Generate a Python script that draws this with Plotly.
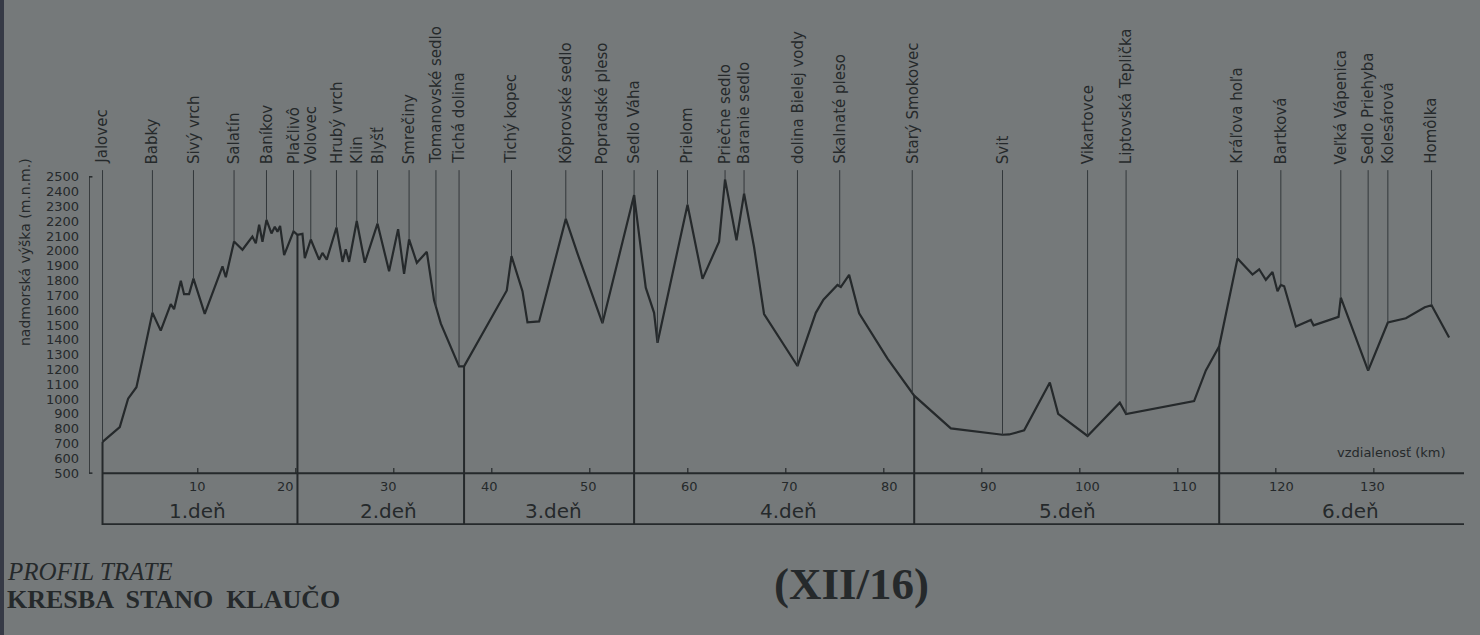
import numpy as np
import plotly.graph_objects as go

# ---------------- data ----------------
km = [0.28, 2.04, 2.89, 3.74, 4.41, 5.37, 6.22, 7.24, 7.58, 8.27, 8.60, 9.11, 9.56,
      10.71, 12.52, 12.86, 13.70, 14.56, 15.57, 15.92, 16.26, 16.60, 17.01, 17.52, 17.86, 18.13, 18.40, 18.81,
      19.77, 20.17, 20.68, 20.92, 21.53, 22.38, 22.72, 23.16, 24.15, 24.77, 25.10, 25.44, 26.22, 27.04, 28.34,
      29.52, 30.44, 31.05, 31.56, 32.35, 33.37, 34.11, 34.80, 36.66, 37.17,
      41.53, 42.01, 43.13, 43.64, 44.83, 47.55, 48.74, 51.29, 54.52, 55.71, 56.56, 56.91, 59.97, 61.50, 63.19,
      63.80, 64.97, 65.74, 66.76, 67.78, 71.19, 73.06, 73.84, 75.27, 75.61, 76.46, 77.48, 80.38, 83.10, 86.84, 89.90,
      92.11, 92.79, 94.32, 96.94, 97.79, 100.79, 104.08, 104.72, 111.66, 112.86, 114.22, 116.09, 117.62, 118.30,
      118.98, 119.66, 120.17, 120.51, 120.85, 122.04, 123.57, 123.85, 126.40, 126.63, 129.42, 131.43, 133.27,
      135.20, 135.89, 137.68]
elev = [711, 811, 1003, 1080, 1283, 1582, 1462, 1641, 1607, 1798, 1708, 1708, 1813,
        1575, 1896, 1822, 2064, 2008, 2097, 2051, 2176, 2062, 2209, 2118, 2163, 2129, 2169, 1971,
        2132, 2109, 2115, 1951, 2077, 1941, 1986, 1941, 2158, 1926, 2011, 1926, 2202, 1920, 2184,
        1862, 2147, 1845, 2078, 1920, 1994, 1666, 1509, 1221, 1221,
        1733, 1965, 1728, 1518, 1524, 2216, 1983, 1512, 2377, 1752, 1582, 1380, 2312, 1811, 2062,
        2483, 2072, 2387, 2026, 1574, 1223, 1582, 1671, 1770, 1756, 1838, 1579, 1273, 1023, 802, 779,
        759, 761, 789, 1112, 900, 751, 976, 899, 986, 1193, 1356, 1949, 1840, 1876,
        1805, 1857, 1728, 1770, 1761, 1490, 1534, 1498, 1555, 1685, 1192, 1517, 1545,
        1620, 1633, 1415]

place_names = ["Jalovec", "Babky", "Sivý vrch", "Salatín", "Baníkov", "Plačlivô", "Volovec", "Hrubý vrch",
               "Klin", "Blyšť", "Smrečiny", "Tomanovské sedlo", "Tichá dolina", "Tichý kopec",
               "Kôprovské sedlo", "Popradské pleso", "Sedlo Váha", "", "Prielom", "Priečne sedlo",
               "Baranie sedlo", "dolina Bielej vody", "Skalnaté pleso", "Starý Smokovec", "Svit",
               "Vikartovce", "Liptovská Teplička", "Kráľova hoľa", "Bartková", "Veľká Vápenica",
               "Sedlo Priehyba", "Kolesárová", "Homôlka"]
place_km = [0.28, 5.37, 9.56, 13.70, 17.01, 19.77, 21.53, 24.15, 26.22, 28.34, 31.56, 34.3, 36.66, 42.01,
            47.55, 51.29, 54.52, 56.91, 59.97, 63.80, 65.74, 71.19, 75.5, 82.9, 92.11,
            100.79, 104.72, 116.09, 120.51, 126.63, 129.42, 131.43, 135.89]

day_bounds_km = [20.17, 37.17, 54.52, 83.10, 114.22]
day_labels = ["1.deň", "2.deň", "3.deň", "4.deň", "5.deň", "6.deň"]
day_label_km = [10.0, 29.5, 46.3, 70.3, 98.7, 127.6]

x_tick_vals = [10, 20, 30, 40, 50, 60, 70, 80, 90, 100, 110, 120, 130]
x_tick_text = ["10", "20", "30", "40", "50", "60", "70", "80", "90", "100", "110", "120", "130"]
x_tick_label_km = [10.0, 18.9, 29.5, 39.8, 49.9, 60.2, 70.4, 80.6, 90.7, 100.8, 110.7, 120.6, 129.9]
y_tick_vals = list(range(500, 2600, 100))

# ---------------- styling ----------------
BG = "#75797a"
INK = "#25292b"
THIN = "#33383b"
W, H = 1480, 635
L, R, T, B = 89, 16, 162, 110
PW, PH = W - L - R, H - T - B
XR = [-1.1, 139.2]
YR = [150, 2600]
TOP = 2545  # top of the name leader lines

def pxx(px):
    return (px - L) / PW

def pxy(py):
    return (T + PH - py) / PH

fig = go.Figure()
fig.add_trace(go.Scatter(x=km, y=elev, mode="lines",
                         line=dict(color=INK, width=2.2), hoverinfo="skip", showlegend=False))

shapes = []
for k in place_km:
    e = float(np.interp(k, km, elev))
    shapes.append(dict(type="line", xref="x", yref="y", x0=k, x1=k, y0=e, y1=TOP,
                       line=dict(color=THIN, width=1)))
shapes.append(dict(type="line", xref="x", yref="y", x0=km[0], x1=km[0], y0=YR[0], y1=elev[0],
                   line=dict(color=INK, width=2)))
for k in day_bounds_km:
    e = float(np.interp(k, km, elev))
    shapes.append(dict(type="line", xref="x", yref="y", x0=k, x1=k, y0=YR[0], y1=e,
                       line=dict(color=INK, width=2)))
shapes.append(dict(type="line", xref="x", yref="y", x0=km[0], x1=XR[1], y0=500, y1=500,
                   line=dict(color=INK, width=2)))
shapes.append(dict(type="line", xref="x", yref="y", x0=km[0], x1=XR[1], y0=YR[0] + 4, y1=YR[0] + 4,
                   line=dict(color=INK, width=2.5)))
for v in x_tick_vals:
    shapes.append(dict(type="line", xref="x", yref="y", x0=v, x1=v, y0=500, y1=535,
                       line=dict(color=INK, width=1.2)))
shapes.append(dict(type="line", xref="x", yref="y", x0=XR[0], x1=XR[0], y0=500, y1=2500,
                   line=dict(color=INK, width=1.5)))
for yy in (500, 2500):
    shapes.append(dict(type="line", xref="x", yref="y", x0=XR[0], x1=XR[0] + 0.35, y0=yy, y1=yy,
                       line=dict(color=INK, width=1.5)))
shapes.append(dict(type="rect", xref="paper", yref="paper", x0=pxx(0), x1=pxx(4), y0=pxy(H), y1=pxy(0),
                   fillcolor="#363a46", line=dict(width=0), layer="below"))

ann = []
for name, k in zip(place_names, place_km):
    if not name:
        continue
    ann.append(dict(x=k, y=TOP, xref="x", yref="y", text=name, textangle=-90, showarrow=False,
                    xanchor="center", yanchor="bottom", yshift=4,
                    font=dict(family="DejaVu Sans", size=15, color=INK)))
for t, k in zip(x_tick_text, x_tick_label_km):
    ann.append(dict(x=k, y=pxy(486), xref="x", yref="paper", text=t, showarrow=False,
                    xanchor="center", yanchor="middle",
                    font=dict(family="DejaVu Sans", size=13, color=INK)))
for t, k in zip(day_labels, day_label_km):
    ann.append(dict(x=k, y=pxy(511), xref="x", yref="paper", text=t, showarrow=False,
                    xanchor="center", yanchor="middle",
                    font=dict(family="DejaVu Sans", size=20, color=INK)))
ann.append(dict(x=pxx(1448), y=pxy(452), xref="paper", yref="paper", text="vzdialenosť (km)",
                showarrow=False, xanchor="right", yanchor="middle",
                font=dict(family="DejaVu Sans", size=13, color=INK)))
ann.append(dict(x=pxx(25), y=pxy(252), xref="paper", yref="paper", text="nadmorská výška (m.n.m.)",
                textangle=-90, showarrow=False, xanchor="center", yanchor="middle",
                font=dict(family="DejaVu Sans", size=14, color=INK)))
ann.append(dict(x=pxx(5), y=pxy(571), xref="paper", yref="paper", text="<i>PROFIL TRATE</i>",
                showarrow=False, xanchor="left", yanchor="middle",
                font=dict(family="Liberation Serif", size=25, color=INK)))
ann.append(dict(x=pxx(5), y=pxy(599), xref="paper", yref="paper", text="<b>KRESBA  STANO  KLAUČO</b>",
                showarrow=False, xanchor="left", yanchor="middle",
                font=dict(family="Liberation Serif", size=26, color=INK)))
ann.append(dict(x=pxx(851), y=pxy(584), xref="paper", yref="paper", text="<b>(XII/16)</b>",
                showarrow=False, xanchor="center", yanchor="middle",
                font=dict(family="Liberation Serif", size=45, color=INK)))

fig.update_layout(
    width=W, height=H, margin=dict(l=L, r=R, t=T, b=B, pad=0),
    paper_bgcolor=BG, plot_bgcolor=BG,
    shapes=shapes, annotations=ann, showlegend=False,
    xaxis=dict(range=XR, showgrid=False, zeroline=False, showline=False, showticklabels=False, ticks=""),
    yaxis=dict(range=YR, showgrid=False, zeroline=False, showline=False, tickvals=y_tick_vals,
               ticktext=[str(v) for v in y_tick_vals], ticks="", ticklabelstandoff=9,
               tickfont=dict(family="DejaVu Sans", size=13, color=INK)),
)
fig.write_html("out.html", config={"displayModeBar": False},
               post_script="document.body.style.margin='0';document.body.style.background='%s';" % BG)
